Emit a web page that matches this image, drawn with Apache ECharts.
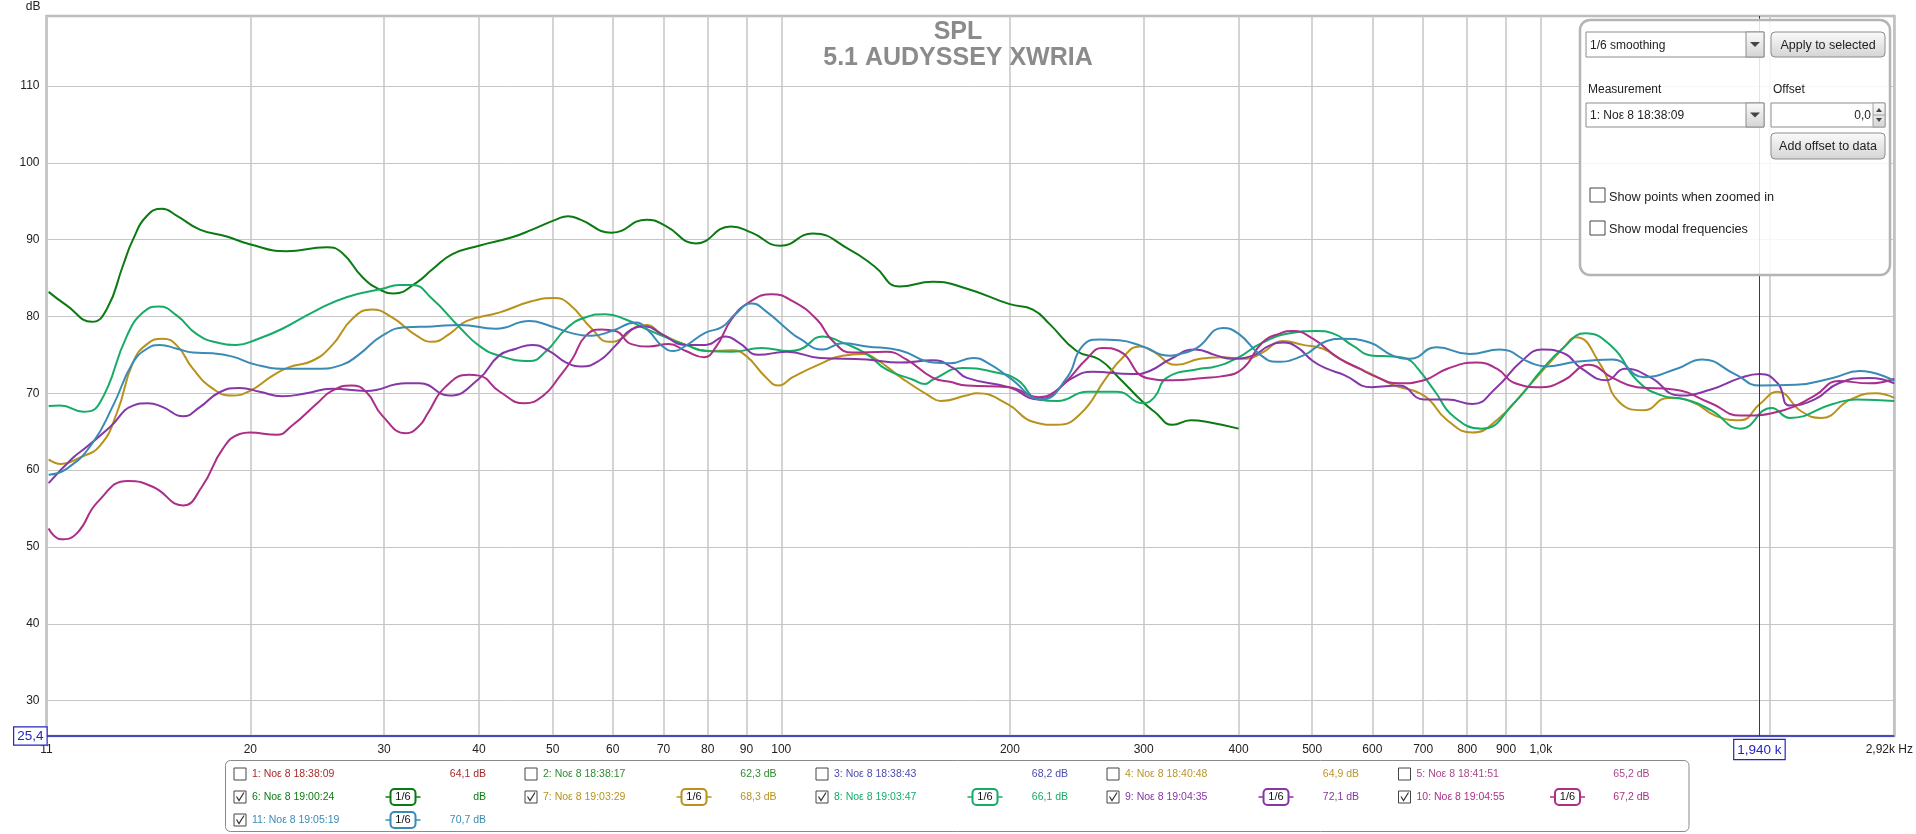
<!DOCTYPE html>
<html><head><meta charset="utf-8">
<style>html,body{margin:0;padding:0;background:#fff;overflow:hidden}#c{width:1916px;height:834px}</style>
<script src="https://cdn.jsdelivr.net/npm/echarts@6/dist/echarts.min.js"></script>
</head><body><div id="c"></div>
<script>
const titleLines = ['SPL', '5.1 AUDYSSEY XWRIA'];
const xTicks = [10.78,20,30,40,50,60,70,80,90,100,200,300,400,500,600,700,800,900,1000,2000,2920];
const xTickLabels = {10.78:'11',1000:'1,0k',2000:'',2920:'{r|2,92k Hz}'};
const yTicks = [30,40,50,60,70,80,90,100,110];
const xMin = 10.78, xMax = 2920, yMin = 25.4, yMax = 119.1;
const cursorHz = 1940, cursorHzLabel = '1,940 k', cursorDb = 25.4, cursorDbLabel = '25,4';

const s6 = [[10.85,83.2],[11.47,81.4],[12.37,79.3],[12.95,81],[13.59,86.6],[14.01,90],[14.62,93.1],[15.3,94],[16.01,93.1],[17.16,91.3],[18.62,90.4],[19.96,89.4],[22.3,88.5],[25.2,89],[26.4,88.3],[28.1,85.1],[29.6,83.5],[30.9,83],[33.1,84.4],[34.7,86.1],[36.9,88.1],[40,89.2],[44.2,90.3],[47,91.3],[50.5,92.6],[52.4,93.05],[54.4,92.6],[59.8,90.9],[66.5,92.6],[70.4,91.8],[77.2,89.5],[85.8,91.7],[91.4,90.9],[99.8,89.2],[110,90.8],[123,88.7],[132.7,86.5],[143.1,83.9],[158.4,84.5],[175.6,83.6],[199.9,81.6],[214.4,80.9],[225.6,79],[244.8,75.5],[262.3,74.4],[278.4,72],[299,68.9],[310,67.6],[327.6,65.9],[346,66.5],[367,66.2],[400,65.4]];
const s7 = [[10.85,61.4],[11.27,60.8],[11.9,61.6],[12.68,63.2],[13.35,67.5],[14.01,74],[14.62,76.4],[15.34,77.1],[16.01,76.2],[16.8,73.2],[17.85,70.6],[18.9,69.7],[19.96,70.3],[21.4,72.3],[22.5,73.4],[24.1,74.2],[25.6,76.2],[27.25,79.7],[28.9,80.9],[30.7,79.9],[33.1,77.5],[34.7,76.7],[36.55,77.7],[38.5,79.4],[42.5,80.5],[47,82],[50.25,82.4],[52.6,81.6],[56.3,78.4],[59.3,76.7],[61.6,77.1],[64.3,78.6],[66.5,78.9],[69.6,77.7],[74.9,76.3],[80.3,75.5],[86.1,75.6],[89.8,74.9],[95.4,72.1],[99.2,71],[103.5,72.1],[112.4,73.8],[120.4,74.9],[128,75.1],[133.5,74.4],[144.4,71.9],[156.4,69.7],[162.2,69],[175.1,69.7],[180.8,70],[198.6,68.6],[214.4,66.3],[230.4,65.9],[247.5,67.3],[267.8,72],[281.2,74.6],[296.4,76.1],[308.2,75.5],[331.5,73.7],[355.8,74.5],[377.9,74.7],[409.7,74.5],[430,75.3],[457.7,76.8],[486.2,76.3],[516.7,75.8],[543.2,74.5],[577.4,73.2],[598.6,72.5],[638.4,71.1],[701.5,69.7],[753,66.5],[812.6,64.9],[875,66.5],[961.6,70.8],[1072.5,76],[1112,77.3],[1198.5,73.7],[1267,68.9],[1367,67.8],[1470,69.4],[1580,68.9],[1705,67],[1832,66.5],[1942,68.6],[2050,70.2],[2206,67.6],[2337,66.8],[2559,69.2],[2760,70],[2920,69.4]];
const s8 = [[10.85,68.35],[11.24,68.4],[12.05,67.6],[12.68,68.8],[13.76,77.5],[14.44,80.5],[15.16,81.3],[16.01,80.1],[17,77.7],[18.07,76.6],[19.17,76.3],[20.38,77],[22.04,78.4],[24.43,80.8],[26.76,82.5],[29.83,83.6],[31.4,84.1],[32.66,84.1],[34.7,82.3],[37.7,78.6],[40,76.2],[42.5,74.9],[46.6,74.2],[49.05,75.5],[52.1,78.4],[55.3,79.9],[58.7,80.3],[62.4,79.6],[66.3,78.4],[70.4,77.3],[74.9,76.3],[79.5,75.5],[86.1,75.4],[94.2,75.9],[102.5,75.5],[105.8,75.7],[113.4,77.4],[120.4,76.6],[129.6,75.1],[137.5,73.1],[148.8,71.8],[154.6,71.2],[158.4,71.8],[173.5,73.3],[189.9,72.8],[204.1,71.8],[218.2,69.2],[231,69],[252.9,70.2],[277,70.2],[299,68.7],[310,69.5],[321.6,72],[355.8,73.2],[370,73.4],[397,74.5],[430,76.6],[467.4,77.8],[507.4,78.1],[532.2,77.8],[565.4,76.2],[600.6,74.9],[638.4,74.8],[666.6,74.5],[688.8,73.2],[726,70.2],[767.3,67],[835.8,65.4],[925.3,68.9],[1000,72.9],[1072.5,76],[1143,77.8],[1243,76],[1338,71.7],[1444,69.7],[1551,69.2],[1675,67.8],[1832,65.4],[2013,68.1],[2127,66.8],[2423,68.6],[2605,69.2],[2920,69]];
const s9 = [[10.85,58.3],[11.68,61.6],[12.17,63],[13.07,65.6],[14.01,68.4],[14.65,68.7],[15.34,68.2],[16.3,67],[17.16,68.2],[18.2,70.1],[19.36,70.7],[20.57,70.2],[22.04,69.6],[23.7,70],[25.6,70.6],[28.4,70.3],[32.06,71.3],[33.4,71.3],[36.55,69.7],[40,71.9],[42.5,74.9],[44.75,75.8],[47,76.3],[49.5,75.5],[52.1,74],[54.6,73.5],[57.5,74.2],[60.5,76.2],[63.5,78.3],[66.3,78.7],[69.6,77.7],[74.9,76.3],[79.5,76.3],[84.5,77.4],[87.9,76.6],[93.4,75],[101.6,75.4],[112.4,74.6],[129.6,74.4],[143.1,74],[158.4,74.3],[168.3,73.3],[175.6,72],[199.3,70.8],[218.2,69.2],[241.9,72],[256.8,72.8],[290.2,72.5],[305.5,72.9],[324.6,74.4],[351,75.7],[374.7,74.9],[392.4,74.5],[417.3,74.9],[439.2,76.2],[457.7,76.6],[477.5,76],[501,74.2],[522.7,73.2],[550.3,72.4],[598.6,70.8],[650.5,71],[701.5,69.2],[753.2,69.2],[812.6,68.6],[875,70.8],[941.5,74.1],[1004,75.7],[1072.5,75.2],[1132,73.2],[1221,71.7],[1290,73.2],[1392,72.1],[1524,69.7],[1675,70.5],[1832,72],[1942,72.5],[2050,71.3],[2127,68.4],[2294,69.2],[2467,71.3],[2709,72],[2920,71.3]];
const s10 = [[10.85,52.4],[11.27,51],[11.8,51.7],[12.6,55.9],[13.8,58.6],[14.9,57.8],[16.3,55.4],[17.26,57.8],[18.4,62.8],[19.36,64.7],[19.96,64.9],[21.65,64.6],[22.7,65.8],[24.43,68.6],[25.6,70.3],[27.16,71],[28.4,70.2],[29.83,67.1],[32.06,64.8],[33.4,65.8],[34.2,67.3],[36.1,70.8],[38.8,72.4],[40,72.3],[42.6,70.2],[45.9,68.7],[48.6,69.7],[51,72.1],[53.1,74.5],[55.3,77.5],[58,78.3],[60.5,78.1],[63.5,76.4],[66.9,76.1],[71.1,76.4],[74.9,75.5],[79.1,74.7],[82,76],[86.1,79.7],[90.6,81.8],[97.1,82.9],[103.5,82],[111.4,79.6],[116.9,76.8],[124.1,75.3],[137.5,75.4],[146.1,74.4],[158.4,72],[166.7,71.5],[175.6,71],[199.3,70.8],[218.2,69.5],[229,70.2],[239.7,72],[252,74.4],[264.7,75.9],[278.4,75.5],[302.8,72],[327.6,71.7],[359.8,72],[379.5,72.2],[404.8,73.2],[430,76.6],[453.7,77.8],[471.8,78.1],[501,77.1],[543.2,74.5],[577.4,73.2],[598.6,72.4],[650.5,71.3],[701.5,71.7],[753.2,73.2],[822.7,74],[875,73.2],[925.3,71.3],[1000,70.8],[1072.5,71.7],[1156,73.7],[1243,72],[1338,70.8],[1496,70.5],[1675,68.7],[1832,67.1],[2088,67.8],[2294,69.7],[2467,71.6],[2709,71.3],[2920,71.9]];
const s11 = [[10.85,59.4],[11.47,60.2],[12.37,63.4],[13.19,68.4],[14.01,74],[14.62,75.8],[15.2,76.3],[16.01,75.8],[16.8,75.3],[17.85,75.2],[18.9,74.8],[20.38,73.7],[22.3,73.2],[24.43,73.2],[26.4,73.7],[27.84,75.1],[29.83,77.5],[32.06,78.6],[34.7,78.7],[37.7,78.9],[42.1,78.4],[46.6,79.4],[49.5,78.8],[53.1,77.8],[56.3,77.5],[59.8,78.1],[64.3,79.2],[66.9,78.1],[69.6,76.2],[72.2,75.5],[74.9,76.2],[79.5,77.9],[83.5,78.6],[87,80.3],[91.4,81.7],[95.4,80.7],[101.6,78.4],[105.8,77.1],[113.4,75.7],[120.4,76.5],[129.6,76.1],[143.1,75.6],[158.4,74],[166.7,73.9],[178.8,74.6],[188.1,73.8],[199.9,72],[220.2,69.2],[237.6,72],[249,76.1],[262.3,77],[278.4,76.9],[299,76.1],[324.6,74.9],[337.7,75.2],[352.6,75.9],[381.5,78.5],[400.6,77.7],[426.2,75.1],[448.7,74.1],[486.2,74.9],[522.7,76.8],[548.3,77.1],[595.2,76.6],[638.4,74.9],[672.7,74.5],[728.7,76],[805.6,75.1],[883,75.7],[967.7,74],[1019,73.5],[1112,74.1],[1243,74.4],[1367,72.1],[1510,73.2],[1630,74.4],[1801,72.5],[1942,71],[2166,71.1],[2423,72],[2628,72.9],[2920,71.6]];

const curveData = [s6, s7, s8, s9, s10, s11];
const curveNames = ['6: Noε 8 19:00:24','7: Noε 8 19:03:29','8: Noε 8 19:03:47','9: Noε 8 19:04:35','10: Noε 8 19:04:55','11: Noε 8 19:05:19'];
const curveColors = ['#0b7a12','#b8921c','#17ab68','#8636a6','#ac2e88','#3a8ab6'];

const legendNames = ['1: Noε 8 18:38:09','2: Noε 8 18:38:17','3: Noε 8 18:38:43','4: Noε 8 18:40:48','5: Noε 8 18:41:51','6: Noε 8 19:00:24','7: Noε 8 19:03:29','8: Noε 8 19:03:47','9: Noε 8 19:04:35','10: Noε 8 19:04:55','11: Noε 8 19:05:19'];
const legendValues = ['64,1 dB','62,3 dB','68,2 dB','64,9 dB','65,2 dB','dB','68,3 dB','66,1 dB','72,1 dB','67,2 dB','70,7 dB'];
const legendColors = ['#a82a2a','#2f8a2f','#4c4cae','#b8962c','#a8488c','#0b7a12','#b8921c','#17ab68','#8636a6','#ac2e88','#3a8ab6'];
const legendChecked = [0,0,0,0,0,1,1,1,1,1,1];
const FONT = '"Liberation Sans", Arial, sans-serif';

const colX = [234,525,816,1107,1398.5];
const colVal = [486,776.5,1068,1359,1649.5];
const rowY = [774,797,820];
const gfx = [];
const Z = 100;
function rect(x,y,w,h,o){gfx.push({type:'rect',z:Z,shape:{x,y,width:w,height:h,r:o.r||0},style:{fill:o.fill||'none',stroke:o.stroke||null,lineWidth:o.lw||1,opacity:o.op==null?1:o.op},silent:true});}
function txt(x,y,s,o){gfx.push({type:'text',z:Z+1,x,y,style:{text:s,fill:o.c||'#222',font:(o.b?'bold ':'')+(o.fs||12)+'px '+FONT,textAlign:o.a||'left',textVerticalAlign:'middle'},silent:true});}
function line(pts,c,lw){gfx.push({type:'polyline',z:Z+1,shape:{points:pts},style:{fill:null,stroke:c,lineWidth:lw||1},silent:true});}
function tri(x,y,c){gfx.push({type:'polygon',z:Z+1,shape:{points:[[x-5,y-2.5],[x+5,y-2.5],[x,y+2.5]]},style:{fill:c||'#444'},silent:true});}
function grad(){return {type:'linear',x:0,y:0,x2:0,y2:1,colorStops:[{offset:0,color:'#fbfbfb'},{offset:1,color:'#d4d4d4'}]};}

// control panel
rect(1580,20,310,255,{r:10,fill:'rgba(255,255,255,0.86)',stroke:'#b4b4b4',lw:2.5});
function combo(y,h,s){rect(1586,y,178,h,{fill:'#fff',stroke:'#8c8c8c'});rect(1746,y,18,h,{fill:grad(),stroke:'#8c8c8c'});tri(1755,y+h/2,'#444');txt(1590,y+h/2+1,s,{fs:12});}
combo(32,25,'1/6 smoothing');
combo(103,24,'1: Noε 8 18:38:09');
function button(y,h,s){rect(1771,y,114,h,{r:4,fill:grad(),stroke:'#8c8c8c'});txt(1828,y+h/2+1,s,{fs:12.5,a:'center'});}
button(32,25,'Apply to selected');
button(133,26,'Add offset to data');
txt(1588,90,'Measurement',{fs:12});
txt(1773,90,'Offset',{fs:12});
rect(1771,103,114,24,{fill:'#fff',stroke:'#8c8c8c'});
rect(1873,103,12,24,{fill:grad(),stroke:'#a0a0a0'});
line([[1873,115],[1885,115]],'#a0a0a0');
gfx.push({type:'polygon',z:Z+1,shape:{points:[[1876,112],[1882,112],[1879,108]]},style:{fill:'#444'},silent:true});
gfx.push({type:'polygon',z:Z+1,shape:{points:[[1876,118],[1882,118],[1879,122]]},style:{fill:'#444'},silent:true});
txt(1871,116,'0,0',{fs:12,a:'right'});
rect(1590,188,15,14,{fill:'#fff',stroke:'#444'});
txt(1609,197,'Show points when zoomed in',{fs:12.7});
rect(1590,221,15,14,{fill:'#fff',stroke:'#444'});
txt(1609,229,'Show modal frequencies',{fs:12.7});

// measurement legend
rect(225.5,760.5,1463.5,71,{r:5,fill:'#fff',stroke:'#8a8a8a'});
legendNames.forEach((n,i)=>{
  const col=i<5?i:(i-5)%5, row=i<5?0:(i<10?1:2);
  const x=colX[col], y=rowY[row], c=legendColors[i];
  rect(x,y-6,12,12,{fill:'#fff',stroke:'#444'});
  if(legendChecked[i]) line([[x+2.5,y-0.5],[x+5,y+3.5],[x+10,y-4.5]],'#333',1.2);
  txt(x+18,y,n,{fs:10.5,c});
  txt(colVal[col],y,legendValues[i],{fs:10.5,c,a:'right'});
  if(legendChecked[i]){
    const bx=x+169;
    line([[bx-17.5,y],[bx-12.5,y]],c,1.5);
    line([[bx+12.5,y],[bx+17.5,y]],c,1.5);
    rect(bx-12.5,y-8,25,16,{r:4,fill:'#fff',stroke:c,lw:2});
    txt(bx,y,'1/6',{fs:11,a:'center',c:'#111'});
  }
});

const curveSeries = curveData.map((d,i)=>({
  name:curveNames[i],type:'line',data:d,smooth:0.5,symbol:'none',
  lineStyle:{width:2,color:curveColors[i]},itemStyle:{color:curveColors[i]},
  silent:true,z:3
}));
const cursorSeries = {
  name:'cursor',type:'line',data:[],silent:true,z:5,
  markLine:{symbol:'none',silent:true,animation:false,
    data:[
      {xAxis:cursorHz,lineStyle:{color:'#2c2cb0',width:1,type:'solid'},
       label:{show:true,position:'start',formatter:cursorHzLabel,distance:4,color:'#2424c0',fontFamily:FONT,fontSize:13.5,
              backgroundColor:'#fff',borderColor:'#2424c0',borderWidth:1.2,padding:[3,3,2,3]}},
      {yAxis:cursorDb,lineStyle:{color:'#2424c0',width:1.6,type:'solid'},
       label:{show:true,position:'start',formatter:cursorDbLabel,distance:0,color:'#2424c0',fontFamily:FONT,fontSize:13.5,
              backgroundColor:'#fff',borderColor:'#2424c0',borderWidth:1.2,padding:[3,3,0,3]}}
    ]}
};

const chart = echarts.init(document.getElementById('c'),null,{renderer:'canvas'});
chart.setOption({
  animation:false,backgroundColor:'#fff',
  title:{text:titleLines.join('\n'),left:953,top:14,textAlign:'center',
    textStyle:{fontFamily:FONT,fontSize:25,fontWeight:'bold',color:'#8b8b8b',lineHeight:26}},
  grid:{left:46.5,right:21.6,top:16,bottom:98,show:true,borderColor:'#bdbdbd',borderWidth:2.5,backgroundColor:'#fff'},
  xAxis:{type:'log',logBase:10,min:xMin,max:xMax,
    axisLine:{show:false},
    axisTick:{show:false,customValues:xTicks},
    axisLabel:{customValues:xTicks,fontFamily:FONT,fontSize:12,color:'#222',margin:8,hideOverlap:false,showMinLabel:true,showMaxLabel:true,
      rich:{r:{fontFamily:FONT,fontSize:12,color:'#222',padding:[0,10,0,0]}},
      formatter:v=>{const k=Object.keys(xTickLabels).find(t=>Math.abs(+t-v)<1e-6);return k!==undefined?xTickLabels[k]:String(Math.round(v));}},
    splitLine:{show:true,lineStyle:{color:'#c6c6c6',width:1.5}},minorSplitLine:{show:false}},
  yAxis:{type:'value',min:yMin,max:yMax,
    name:'dB',nameLocation:'end',nameGap:3,nameTextStyle:{fontFamily:FONT,fontSize:12,color:'#222',align:'right',padding:[0,6,0,0]},
    axisLine:{show:false},
    axisTick:{show:false,customValues:yTicks},
    axisLabel:{customValues:yTicks,fontFamily:FONT,fontSize:12,color:'#222',margin:7,padding:[2,0,0,0]},
    splitLine:{show:true,lineStyle:{color:'#c6c6c6',width:1}}},
  series:[...curveSeries,cursorSeries],
  graphic:{elements:gfx}
});
</script></body></html>
